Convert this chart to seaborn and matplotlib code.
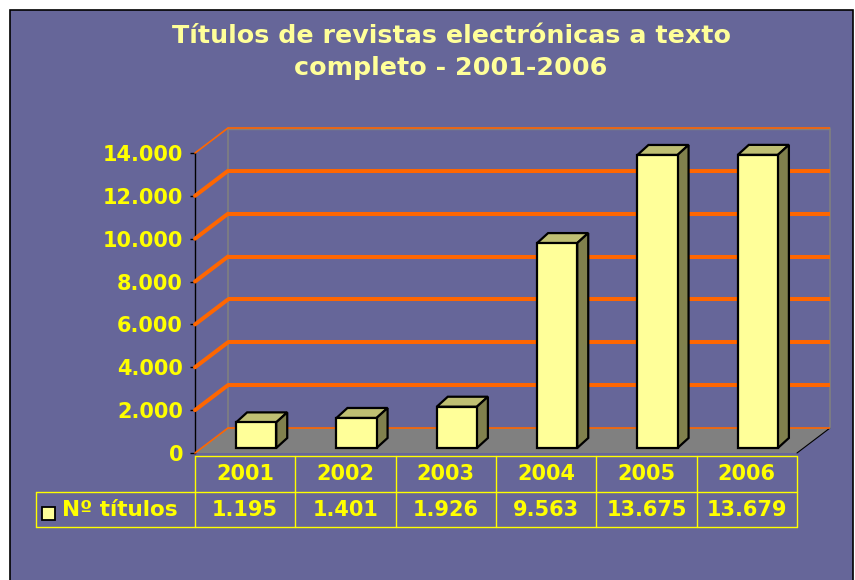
import numpy as np
import pandas as pd
import matplotlib
matplotlib.use('Agg')
import matplotlib.pyplot as plt
import matplotlib.transforms as mtrans
from matplotlib.patches import Polygon, Rectangle
import seaborn as sns

# data
years = ['2001', '2002', '2003', '2004', '2005', '2006']
titulos = [1195, 1401, 1926, 9563, 13675, 13679]
yticks = [0, 2000, 4000, 6000, 8000, 10000, 12000, 14000]
title = 'Títulos de revistas electrónicas a texto\ncompleto - 2001-2006'
series_name = 'Nº títulos'

bg = '#666699'
yel = '#FFFF00'
bar_col = '#FFFF99'
top_col = '#BFBF73'
side_col = '#80804D'
grid_col = '#FF6600'


def miles(v):
    return f'{v:,}'.replace(',', '.')


W, H = 855, 580
sns.set_style('white')
plt.rcParams['font.family'] = ['DejaVu Sans']

fig = plt.figure(figsize=(W / 100, H / 100), dpi=100)
fig.patch.set_facecolor('white')
fig.patches.append(Rectangle((10 / W, -0.05), 843 / W, 1.05 - 10 / H, transform=fig.transFigure,
                             facecolor=bg, edgecolor='black', lw=1.2, zorder=-10))

# front axis (ticks + floor + back wall)
ax = fig.add_axes([195 / W, 1 - 453 / H, 602 / W, 300 / H])
ax.set_xlim(-0.5, 5.5)
ax.set_ylim(0, 14000)
ax.patch.set_alpha(0)
ux = 6 / 602          # data units per pixel, x
uy = 14000 / 300      # data units per pixel, y
bx, by = 33 * ux, 25 * uy

# floor
ax.add_patch(Polygon([(-0.5, 0), (5.5, 0), (5.5 + bx, by), (-0.5 + bx, by)], closed=True,
                     facecolor='#808080', edgecolor='none', clip_on=False, zorder=1))
ax.plot([5.5, 5.5 + bx], [0, by], color='black', lw=0.8, clip_on=False, zorder=2)

# back wall borders
ax.plot([-0.5 + bx] * 2, [by, 14000 + by], color='#808080', lw=1.2, clip_on=False, zorder=2)
ax.plot([5.5 + bx] * 2, [by, 14000 + by], color='#808080', lw=1.2, clip_on=False, zorder=2)
ax.plot([-0.5 + bx, 5.5 + bx], [14000 + by - 25, 14000 + by - 25], color='#808080', lw=1,
        clip_on=False, zorder=2)

# gridlines on back wall and left side
for t in yticks:
    lw = 1.2 if t in (0, 14000) else 2.9
    ax.plot([-0.5 + bx, 5.5 + bx], [t + by, t + by], color=grid_col, lw=lw, clip_on=False, zorder=3,
            solid_capstyle='butt')
    ax.plot([-0.5, -0.5 + bx], [t, t + by], color=grid_col, lw=lw, clip_on=False, zorder=3)

for s in ['top', 'right', 'bottom']:
    ax.spines[s].set_visible(False)
ax.spines['left'].set_color('black')
ax.spines['left'].set_linewidth(1)
ax.set_xticks([])
ax.set_yticks(yticks)
ax.set_yticklabels([miles(t) for t in yticks], fontweight='bold')
ax.tick_params(axis='y', length=3.6, width=1, color='black', pad=5, labelcolor=yel, labelsize=15,
               left=True)

# bars (front faces via seaborn, slightly set back into the floor)
ax2 = fig.add_axes([(195 + 11) / W, 1 - 448 / H, 602 / W, 300 / H])
sns.barplot(x=years, y=titulos, ax=ax2, color=bar_col, saturation=1, width=0.4,
            edgecolor='black', linewidth=1.6, errorbar=None)
ax2.set_xlim(-0.5, 5.5)
ax2.set_ylim(0, 14000)
ax2.axis('off')
ax2.patch.set_alpha(0)
dx, dy = 11 * ux, 10 * uy
for p in list(ax2.patches):
    x0, w, h = p.get_x(), p.get_width(), p.get_height()
    p.set_clip_on(False)
    p.set_zorder(3)
    ax2.add_patch(Polygon([(x0, h), (x0 + w, h), (x0 + w + dx, h + dy), (x0 + dx, h + dy)],
                          closed=True, facecolor=top_col, edgecolor='black', lw=1.6,
                          clip_on=False, zorder=2))
    ax2.add_patch(Polygon([(x0 + w, 0), (x0 + w + dx, dy), (x0 + w + dx, h + dy), (x0 + w, h)],
                          closed=True, facecolor=side_col, edgecolor='black', lw=1.6,
                          clip_on=False, zorder=2))

# data table
tr = mtrans.blended_transform_factory(ax.transData, ax.transAxes)
y_top, y_mid, y_bot = -0.01, -0.13, -0.2467
x_lab = -2.085
ax.plot([-0.5, 5.5], [y_top, y_top], color=yel, lw=1, transform=tr, clip_on=False)
ax.plot([x_lab, 5.5], [y_mid, y_mid], color=yel, lw=1, transform=tr, clip_on=False)
ax.plot([x_lab, 5.5], [y_bot, y_bot], color=yel, lw=1, transform=tr, clip_on=False)
for i in range(len(years) + 1):
    ax.plot([i - 0.5, i - 0.5], [y_top, y_bot], color=yel, lw=1, transform=tr, clip_on=False)
ax.plot([x_lab, x_lab], [y_mid, y_bot], color=yel, lw=1, transform=tr, clip_on=False)

for i, (yr, v) in enumerate(zip(years, titulos)):
    ax.text(i, (y_top + y_mid) / 2, yr, transform=tr, ha='center', va='center',
            color=yel, fontsize=15, fontweight='bold')
    ax.text(i, (y_mid + y_bot) / 2, miles(v), transform=tr, ha='center', va='center',
            color=yel, fontsize=15, fontweight='bold')

ax.add_patch(Rectangle((-2.02, -0.223), 0.12, 0.043, transform=tr, facecolor=bar_col,
                       edgecolor='black', lw=1.3, clip_on=False))
ax.text(-1.83, (y_mid + y_bot) / 2, series_name, transform=tr, ha='left', va='center',
        color=yel, fontsize=15.5, fontweight='bold')

# title
fig.text(451 / W, 1 - 52 / H, title, ha='center', va='center', fontsize=18.3, fontweight='bold',
         color='#FFFF99', linespacing=1.45)

fig.savefig('out.png', dpi=100)
